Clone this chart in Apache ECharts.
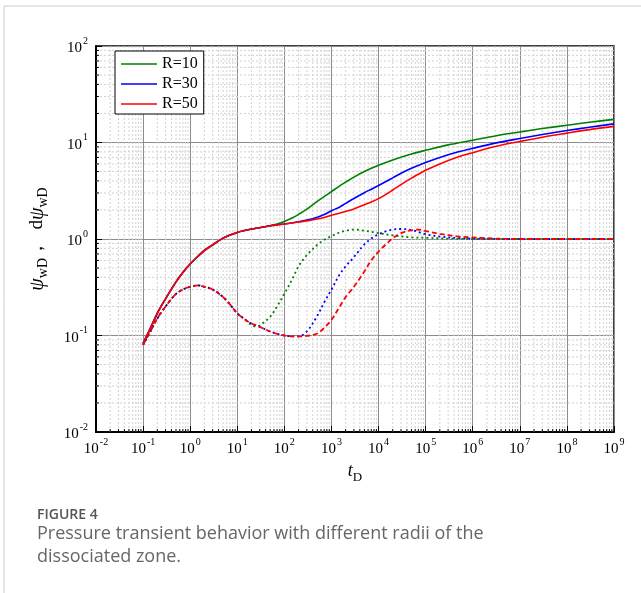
<!DOCTYPE html>
<html>
<head>
<meta charset="utf-8">
<script src="https://cdn.jsdelivr.net/npm/echarts@6/dist/echarts.min.js"></script>
<style>html,body{margin:0;padding:0;background:#fff;}#c{width:641px;height:593px;}</style>
</head>
<body>
<div id="c"></div>
<script>
// ---- data ----
const seriesNames = ['R=10', 'R=30', 'R=50'];
const colors = ['#008000', '#0000ff', '#ff0000'];

// common early-time pressure (all radii overlap)
const tCommonP = [0.1, 0.15, 0.2, 0.3, 0.5, 0.7, 1, 1.5, 2, 3, 5, 7, 10, 15, 20, 30];
const pCommon  = [0.083, 0.125, 0.17, 0.24, 0.36, 0.45, 0.55, 0.67, 0.76, 0.87, 1.02, 1.10, 1.17, 1.23, 1.27, 1.31];

// later pressure
const tP10 = [50, 70, 100, 150, 200, 300, 500, 700, 1000, 1500, 2000, 3000, 5000, 1e4, 2e4, 5e4, 1e5, 3e5, 1e6, 3e6, 1e7, 3e7, 1e8, 3e8, 1e9];
const p10  = [1.37, 1.43, 1.52, 1.66, 1.80, 2.04, 2.45, 2.75, 3.1, 3.55, 3.88, 4.38, 5.0, 5.8, 6.6, 7.6, 8.3, 9.45, 10.55, 11.7, 12.85, 13.95, 15.1, 16.2, 17.35];
const tP30 = [50, 70, 100, 200, 300, 500, 700, 1000, 1500, 2000, 3000, 5000, 7000, 1e4, 2e4, 3e4, 5e4, 1e5, 2e5, 5e5, 1e6, 3e6, 1e7, 3e7, 1e8, 3e8, 1e9];
const p30  = [1.37, 1.40, 1.43, 1.51, 1.57, 1.68, 1.79, 1.96, 2.15, 2.34, 2.63, 3.02, 3.28, 3.58, 4.3, 4.8, 5.4, 6.2, 7.0, 8.0, 8.7, 9.85, 11.0, 12.1, 13.3, 14.4, 15.6];
const tP50 = [50, 70, 100, 200, 300, 500, 700, 1000, 2000, 3000, 5000, 7000, 1e4, 1.5e4, 2e4, 3e4, 5e4, 1e5, 2e5, 5e5, 1e6, 3e6, 1e7, 3e7, 1e8, 3e8, 1e9];
const p50  = [1.37, 1.40, 1.43, 1.50, 1.54, 1.61, 1.67, 1.76, 1.93, 2.05, 2.27, 2.42, 2.62, 2.94, 3.22, 3.66, 4.27, 5.15, 6.0, 7.1, 7.85, 9.1, 10.25, 11.35, 12.5, 13.6, 14.7];

// common early-time derivative
const tCommonD = [0.1, 0.15, 0.2, 0.3, 0.5, 0.7, 1, 1.5, 2, 3, 5, 7, 10, 15];
const dCommon  = [0.08, 0.115, 0.15, 0.2, 0.27, 0.30, 0.32, 0.33, 0.32, 0.30, 0.25, 0.21, 0.17, 0.145];

const tD10 = [20, 25, 30, 50, 70, 100, 150, 200, 300, 500, 700, 1000, 1500, 2000, 3000, 5000, 1e4, 2e4, 5e4, 1e5, 3e5, 1e6, 1e7, 1e8, 1e9];
const d10  = [0.128, 0.124, 0.127, 0.157, 0.2, 0.27, 0.39, 0.52, 0.68, 0.87, 0.98, 1.07, 1.17, 1.22, 1.25, 1.22, 1.15, 1.09, 1.04, 1.03, 1.01, 1.0, 1.0, 1.0, 1.0];
const tD30 = [20, 30, 50, 70, 100, 150, 200, 300, 500, 700, 1000, 1500, 2000, 3000, 5000, 7000, 1e4, 1.5e4, 2e4, 3e4, 5e4, 1e5, 2e5, 5e5, 1e6, 1e7, 1e8, 1e9];
const d30  = [0.133, 0.123, 0.11, 0.104, 0.1, 0.098, 0.098, 0.11, 0.16, 0.22, 0.30, 0.43, 0.52, 0.65, 0.88, 1.01, 1.12, 1.21, 1.25, 1.27, 1.24, 1.12, 1.06, 1.02, 1.01, 1.0, 1.0, 1.0];
const tD50 = [20, 30, 50, 70, 100, 150, 200, 300, 500, 700, 1000, 1500, 2000, 3000, 5000, 7000, 1e4, 1.5e4, 2e4, 3e4, 5e4, 7e4, 1e5, 2e5, 5e5, 1e6, 3e6, 1e7, 1e8, 1e9];
const d50  = [0.133, 0.123, 0.11, 0.104, 0.1, 0.098, 0.098, 0.099, 0.105, 0.12, 0.145, 0.2, 0.25, 0.32, 0.46, 0.6, 0.74, 0.9, 1.02, 1.15, 1.23, 1.25, 1.21, 1.13, 1.06, 1.04, 1.01, 1.0, 1.0, 1.0];

// axis decades
const xDecades = [-2, -1, 0, 1, 2, 3, 4, 5, 6, 7, 8, 9];
const yDecades = [-2, -1, 0, 1, 2];

// ---- helpers ----
function pairs(t, v) { return t.map((x, i) => [x, v[i]]); }
function minorValues(decs) {
  const out = [];
  for (let i = 0; i < decs.length - 1; i++) for (let k = 2; k <= 9; k++) out.push(k * Math.pow(10, decs[i]));
  return out;
}
const xMinor = minorValues(xDecades);
const yMinor = minorValues(yDecades);

const pressureData = [
  pairs(tCommonP, pCommon).concat(pairs(tP10, p10)),
  pairs(tCommonP, pCommon).concat(pairs(tP30, p30)),
  pairs(tCommonP, pCommon).concat(pairs(tP50, p50))
];
const derivData = [
  pairs(tCommonD, dCommon).concat(pairs(tD10, d10)),
  pairs(tCommonD, dCommon).concat(pairs(tD30, d30)),
  pairs(tCommonD, dCommon).concat(pairs(tD50, d50))
];
const derivDash = [[2, 3], [2, 3], [5, 3]];

const serif = 'Liberation Serif';
function expLabel(v) {
  const e = Math.round(Math.log10(v));
  return '{b|10}{s|' + e + '}';
}
const labelRich = {
  b: { fontFamily: serif, fontSize: 15, color: '#000', lineHeight: 20, verticalAlign: 'bottom' },
  s: { fontFamily: serif, fontSize: 10, color: '#000', lineHeight: 20, verticalAlign: 'top', padding: [0, 0, 0, 1] }
};

const chart = echarts.init(document.getElementById('c'), null, { renderer: 'canvas' });

const series = [];
// minor grid (x)
series.push({
  type: 'custom', silent: true, z: 1, name: 'xminor',
  data: xMinor.map(v => [v, 1]),
  renderItem: function (params, api) {
    const p = api.coord([api.value(0), 1]);
    const cs = params.coordSys;
    return { type: 'group', children: [
      { type: 'line', shape: { x1: p[0], y1: cs.y, x2: p[0], y2: cs.y + cs.height }, style: { stroke: '#d2d2d2', lineWidth: 1, lineDash: [2, 2] } },
      { type: 'line', shape: { x1: p[0], y1: cs.y + cs.height, x2: p[0], y2: cs.y + cs.height - 3 }, style: { stroke: '#000', lineWidth: 1 } }
    ] };
  }
});
series.push({
  type: 'custom', silent: true, z: 1, name: 'yminor',
  data: yMinor.map(v => [1, v]),
  renderItem: function (params, api) {
    const p = api.coord([1, api.value(1)]);
    const cs = params.coordSys;
    return { type: 'group', children: [
      { type: 'line', shape: { x1: cs.x, y1: p[1], x2: cs.x + cs.width, y2: p[1] }, style: { stroke: '#d2d2d2', lineWidth: 1, lineDash: [2, 2] } },
      { type: 'line', shape: { x1: cs.x, y1: p[1], x2: cs.x + 3, y2: p[1] }, style: { stroke: '#000', lineWidth: 1 } }
    ] };
  }
});
for (let i = 0; i < 3; i++) {
  series.push({
    type: 'line', name: seriesNames[i] + ' d', data: derivData[i], showSymbol: false, symbol: 'none',
    smooth: 0.35, z: 3,
    lineStyle: { color: colors[i], width: 1.8, type: derivDash[i] }, itemStyle: { color: colors[i] }
  });
}
for (let i = 0; i < 3; i++) {
  series.push({
    type: 'line', name: seriesNames[i], data: pressureData[i], showSymbol: false, symbol: 'none',
    smooth: 0.35, z: 4,
    lineStyle: { color: colors[i], width: 1.6 }, itemStyle: { color: colors[i] }
  });
}

chart.setOption({
  animation: false,
  backgroundColor: '#fff',
  grid: { left: 96, right: 27, top: 46, bottom: 161, show: true, borderColor: '#000', borderWidth: 1.5, backgroundColor: 'transparent' },
  legend: {
    data: seriesNames.map(n => ({ name: n, icon: 'path://M0,0 L36,0 L36,1.6 L0,1.6 Z' })),
    left: 115, top: 51, orient: 'vertical',
    itemWidth: 36, itemHeight: 2, itemGap: 4, padding: [5, 6, 2, 6],
    borderColor: '#000', borderWidth: 1, backgroundColor: '#fff',
    textStyle: { fontFamily: serif, fontSize: 16, color: '#000', lineHeight: 16 }, selectedMode: false
  },
  xAxis: {
    type: 'log', logBase: 10, min: 0.01, max: 1e9, interval: 1, splitNumber: 11,
    name: '{i|t}{s|D}', nameLocation: 'middle', nameGap: 30,
    nameTextStyle: { rich: {
      i: { fontFamily: serif, fontStyle: 'italic', fontSize: 18, color: '#000', lineHeight: 22, verticalAlign: 'top' },
      s: { fontFamily: serif, fontSize: 13, color: '#000', lineHeight: 22, verticalAlign: 'bottom' }
    } },
    axisLine: { show: true, lineStyle: { color: '#000', width: 2 } },
    axisTick: { show: true, inside: true, length: 6, lineStyle: { color: '#000', width: 1 } },
    axisLabel: { formatter: expLabel, rich: labelRich, margin: 5 },
    splitLine: { show: true, lineStyle: { color: '#8c8c8c', width: 1 } }
  },
  yAxis: {
    type: 'log', logBase: 10, min: 0.01, max: 100, interval: 1, splitNumber: 4,
    name: '{i|ψ}{s|wD}{n|，  d}{i|ψ}{s|wD}', nameLocation: 'middle', nameGap: 46, nameRotate: 90,
    nameTextStyle: { rich: {
      i: { fontFamily: serif, fontStyle: 'italic', fontSize: 20, color: '#000', lineHeight: 22, verticalAlign: 'top' },
      n: { fontFamily: serif, fontSize: 19, color: '#000', lineHeight: 22, verticalAlign: 'top' },
      s: { fontFamily: serif, fontSize: 14, color: '#000', lineHeight: 22, verticalAlign: 'bottom' }
    } },
    axisLine: { show: true, lineStyle: { color: '#000', width: 2 } },
    axisTick: { show: true, inside: true, length: 6, lineStyle: { color: '#000', width: 1 } },
    axisLabel: { formatter: expLabel, rich: labelRich, margin: 8 },
    splitLine: { show: true, lineStyle: { color: '#8c8c8c', width: 1 } }
  },
  graphic: [
    { type: 'line', shape: { x1: 4, y1: 6, x2: 641, y2: 6 }, style: { stroke: '#cccccc', lineWidth: 1 }, silent: true },
    { type: 'line', shape: { x1: 4, y1: 6, x2: 4, y2: 593 }, style: { stroke: '#cccccc', lineWidth: 1 }, silent: true },
    { type: 'text', left: 37, top: 508, style: { text: 'FIGURE 4', font: '600 14px "Open Sans"', fill: '#555555' }, silent: true },
    { type: 'text', left: 37, top: 525, style: { text: 'Pressure transient behavior with different radii of the', font: '18px "Open Sans"', fill: '#666666' }, silent: true },
    { type: 'text', left: 37, top: 548, style: { text: 'dissociated zone.', font: '18px "Open Sans"', fill: '#666666' }, silent: true }
  ],
  series: series
});
</script>
</body>
</html>
